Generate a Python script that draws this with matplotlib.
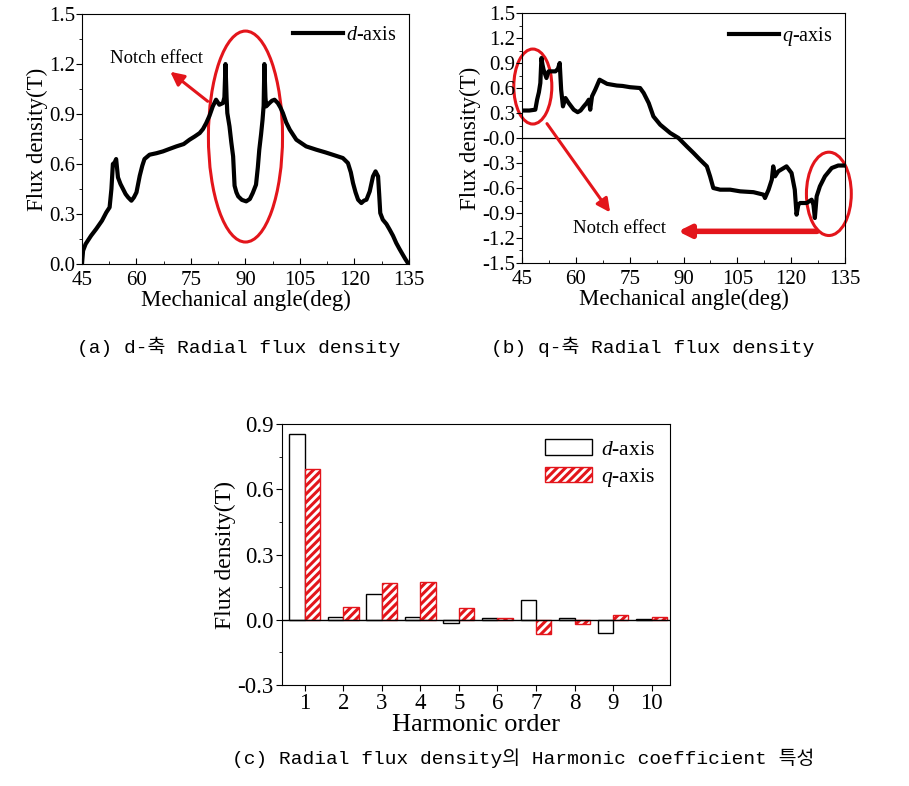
#!/usr/bin/env python3
"""Radial flux density (d/q axis) and harmonic coefficients."""

import matplotlib

matplotlib.use("Agg")
import matplotlib.pyplot as plt
import numpy as np
from matplotlib.patches import Ellipse
from matplotlib.ticker import MultipleLocator

plt.rcParams["font.family"] = "Liberation Serif"
plt.rcParams["mathtext.fontset"] = "custom"
plt.rcParams["mathtext.it"] = "Liberation Serif:italic"
plt.rcParams["mathtext.rm"] = "Liberation Serif"
plt.rcParams["hatch.linewidth"] = 2.2

RED = "#e3151b"
CAP_FONT = ["Liberation Mono", "Noto Sans CJK KR"]

# (a) d-axis radial flux density
D_ANGLE = [45, 45.3, 46, 47.5, 48.9, 50.5, 51.7, 52.6, 53.1, 53.5, 54.0, 54.4,
           54.9, 55.6, 56.3, 57.0, 57.7, 58.6, 59.3, 60.0, 60.9, 61.6, 62.2,
           63.6, 65.5, 67.3, 69.0, 71.0, 73.0, 74.6, 76.0, 77.4, 78.3, 79.2,
           80.1, 81.0, 81.9, 82.8, 83.8, 84.2, 84.5, 84.8, 85.0, 85.6, 86.1,
           86.6, 87.0, 87.5, 88.0, 89.0, 90.2, 91.2, 92.0, 92.9, 93.4, 93.8,
           94.3, 94.7, 95.0, 95.2, 95.5, 95.7, 96.6, 97.3, 98.0, 98.9, 99.6,
           100.3, 101.2, 102.2, 104.0, 106.7, 109.5, 112.0, 114.0, 116.8,
           118.2, 119.0, 119.6, 120.3, 121.0, 121.9, 122.6, 123.3, 124.2,
           125.1, 125.8, 126.5, 126.8, 127.1, 127.8, 128.8, 129.7, 130.6,
           131.5, 132.4, 133.3, 134.0, 134.7, 135]
D_FLUX = [0.0, 0.08, 0.12, 0.17, 0.21, 0.26, 0.31, 0.34, 0.45, 0.60, 0.61, 0.63,
          0.52, 0.48, 0.45, 0.42, 0.40, 0.38, 0.40, 0.43, 0.53, 0.59, 0.63,
          0.656, 0.665, 0.676, 0.69, 0.706, 0.72, 0.746, 0.765, 0.786, 0.81,
          0.846, 0.89, 0.946, 0.986, 0.956, 0.966, 1.0, 1.2, 1.0, 0.906, 0.826,
          0.73, 0.646, 0.47, 0.43, 0.406, 0.385, 0.376, 0.39, 0.426, 0.476,
          0.58, 0.686, 0.78, 0.866, 0.95, 1.2, 1.0, 0.946, 0.966, 0.98, 0.986,
          0.966, 0.94, 0.906, 0.85, 0.806, 0.746, 0.706, 0.686, 0.67, 0.656,
          0.636, 0.606, 0.55, 0.486, 0.43, 0.386, 0.366, 0.38, 0.386, 0.436,
          0.526, 0.556, 0.526, 0.42, 0.306, 0.266, 0.24, 0.206, 0.17, 0.126,
          0.09, 0.056, 0.03, 0.006, 0.0]

# (b) q-axis radial flux density
Q_ANGLE = [45, 47.0, 48.7, 49.2, 49.7, 50.1, 50.4, 50.7, 51.0, 51.8, 52.4,
           53.5, 54.3, 55.0, 55.5, 55.9, 56.4, 57.1, 58.0, 59.4, 60.5, 61.3,
           62.2, 63.0, 63.6, 64.0, 64.5, 65.4, 66.6, 68.7, 71.4, 73.0, 75.1,
           77.9, 78.9, 80.3, 81.6, 83.5, 86.3, 88.6, 90.9, 92.8, 94.6, 96.5,
           97.4, 98.3, 100.2, 103.0, 105.8, 109.5, 112.3, 112.7, 113.7, 114.6,
           115.0, 115.5, 116.4, 118.7, 120.1, 121.0, 121.5, 122.0, 122.5,
           124.3, 125.7, 126.2, 126.6, 127.1, 128.0, 129.4, 131.3, 133.1, 135]
Q_FLUX = [0.33, 0.33, 0.34, 0.46, 0.55, 0.66, 0.96, 0.88, 0.82, 0.72, 0.80,
          0.80, 0.80, 0.83, 0.90, 0.58, 0.38, 0.48, 0.42, 0.34, 0.31, 0.33,
          0.38, 0.42, 0.46, 0.34, 0.50, 0.58, 0.70, 0.65, 0.63, 0.625, 0.61,
          0.60, 0.54, 0.42, 0.26, 0.16, 0.06, 0.0, -0.10, -0.18, -0.26, -0.34,
          -0.46, -0.60, -0.62, -0.62, -0.64, -0.65, -0.68, -0.72, -0.62, -0.50,
          -0.34, -0.46, -0.40, -0.34, -0.42, -0.62, -0.92, -0.80, -0.78, -0.78,
          -0.74, -0.80, -0.96, -0.70, -0.58, -0.46, -0.36, -0.33, -0.33]

# (c) harmonic coefficients
ORDERS = [1, 2, 3, 4, 5, 6, 7, 8, 9, 10]
D_HARM = [0.855, 0.012, 0.12, 0.012, -0.015, 0.008, 0.09, 0.008, -0.061, 0.003]
Q_HARM = [0.694, 0.058, 0.169, 0.173, 0.054, 0.008, -0.066, -0.02, 0.021, 0.012]

ANGLE_TICKS = [45, 60, 75, 90, 105, 120, 135]


def style_angle_axes(ax, ylo, yhi):
    ax.set_xlim(45, 135)
    ax.set_ylim(ylo, yhi)
    ax.set_xticks(ANGLE_TICKS)
    ax.xaxis.set_minor_locator(MultipleLocator(7.5))
    ax.yaxis.set_major_locator(MultipleLocator(0.3))
    ax.yaxis.set_minor_locator(MultipleLocator(0.15))
    ax.yaxis.set_major_formatter(lambda v, p: f"{v:.1f}")
    ax.tick_params(axis="x", which="both", direction="in", labelsize=15, pad=5)
    ax.tick_params(axis="y", which="both", direction="out", labelsize=15, pad=1)
    ax.tick_params(which="major", length=4)
    ax.tick_params(which="minor", length=2.5)
    ax.set_xlabel("Mechanical angle(deg)", fontsize=16.5, labelpad=0)
    ax.set_ylabel("Flux density(T)", fontsize=16.5, labelpad=1)


fig = plt.figure(figsize=(9.09, 7.86), dpi=100)

# ---- (a)
ax = fig.add_axes([0.0902, 0.6641, 0.3597, 0.318])
ax.plot(D_ANGLE, D_FLUX, c="black", lw=3.0, label=r"$d$-axis")
style_angle_axes(ax, 0.0, 1.5)
ax.legend(loc="upper right", frameon=False, fontsize=14.5, handlelength=2.5,
          handletextpad=0.15, borderaxespad=0.2, bbox_to_anchor=(1.0, 1.0))
ax.add_patch(Ellipse((90, 0.765), 20.4, 1.266, fill=False, ec=RED, lw=2.2))
ax.annotate("", xy=(68.7, 1.164), xytext=(80.2, 0.966),
            arrowprops=dict(arrowstyle="-|>", color=RED, lw=2.2, mutation_scale=20))
ax.text(52.7, 1.236, "Notch effect", fontsize=13.5, va="center", ha="left")

# ---- (b)
ax = fig.add_axes([0.5743, 0.6654, 0.3553, 0.318])
ax.plot(Q_ANGLE, Q_FLUX, c="black", lw=3.0, label=r"$q$-axis")
ax.axhline(0, c="black", lw=0.9)
style_angle_axes(ax, -1.5, 1.5)
ax.legend(loc="upper right", frameon=False, fontsize=14.5, handlelength=2.5,
          handletextpad=0.15, borderaxespad=0.2, bbox_to_anchor=(1.0, 1.0))
ax.add_patch(Ellipse((48.0, 0.618), 10.6, 0.9, fill=False, ec=RED, lw=2.2,
                     clip_on=False))
ax.add_patch(Ellipse((130.5, -0.67), 12.5, 1.0, fill=False, ec=RED, lw=2.2,
                     clip_on=False))
ax.annotate("", xy=(70.0, -0.92), xytext=(51.5, 0.2),
            arrowprops=dict(arrowstyle="-|>", color=RED, lw=2.2, mutation_scale=20))
ax.annotate("", xy=(87.7, -1.12), xytext=(128.0, -1.12),
            arrowprops=dict(arrowstyle="-|>", color=RED, lw=4.0, mutation_scale=18))
ax.text(59.2, -1.09, "Notch effect", fontsize=13.5, va="center", ha="left")

# ---- (c)
ax = fig.add_axes([0.3102, 0.1285, 0.4268, 0.332])
x = np.array(ORDERS)
w = 0.4
ax.bar(x - w / 2, D_HARM, w, facecolor="white", edgecolor="black", lw=1.0,
       label=r"$d$-axis")
ax.bar(x + w / 2, Q_HARM, w, facecolor="white", edgecolor=RED, hatch="////",
       lw=1.0, label=r"$q$-axis")
ax.axhline(0, c="black", lw=1.0)
ax.set_xlim(0.41, 10.475)
ax.set_ylim(-0.3, 0.9)
ax.set_xticks(ORDERS)
ax.yaxis.set_major_locator(MultipleLocator(0.3))
ax.yaxis.set_minor_locator(MultipleLocator(0.15))
ax.yaxis.set_major_formatter(lambda v, p: f"{v:.1f}")
ax.tick_params(which="both", direction="out", labelsize=16.5, pad=2)
ax.tick_params(which="major", length=4)
ax.tick_params(which="minor", length=2.5)
ax.set_xlabel("Harmonic order", fontsize=19, labelpad=0)
ax.set_ylabel("Flux density(T)", fontsize=17, labelpad=1)
ax.legend(loc="upper right", frameon=False, fontsize=15.5, handlelength=2.2,
          handleheight=0.75, handletextpad=0.4, labelspacing=0.3,
          borderaxespad=0.3)

# ---- captions
fig.text(0.263, 0.5585, "(a) d-축 Radial flux density", fontsize=14,
         family=CAP_FONT, ha="center", va="center")
fig.text(0.718, 0.5585, "(b) q-축 Radial flux density", fontsize=14,
         family=CAP_FONT, ha="center", va="center")
fig.text(0.576, 0.0356, "(c) Radial flux density의 Harmonic coefficient 특성",
         fontsize=14, family=CAP_FONT, ha="center", va="center")

fig.savefig("out.png", dpi=100)
